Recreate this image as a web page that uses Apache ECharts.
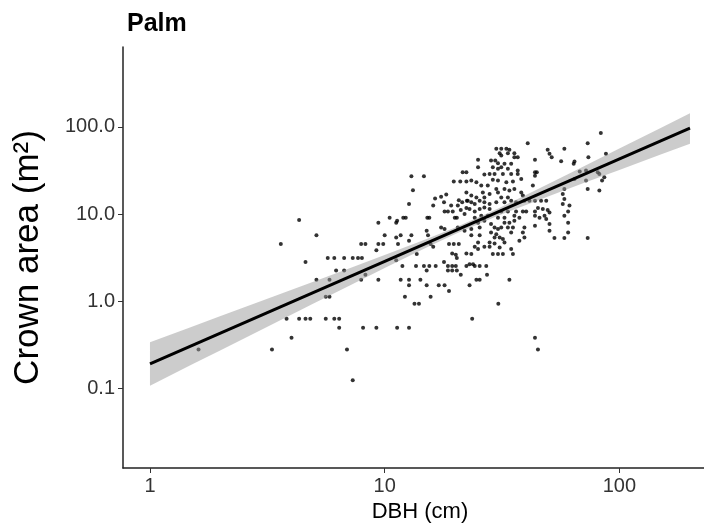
<!DOCTYPE html>
<html><head><meta charset="utf-8">
<script src="https://cdn.jsdelivr.net/npm/echarts@6/dist/echarts.min.js"></script>
<style>html,body{margin:0;padding:0;background:#fff}#c{width:704px;height:525px}</style>
</head><body><div id="c"></div>
<script>
const chartTitle = 'Palm';
const xName = 'DBH (cm)';
const yName = 'Crown area (m\u00B2)';
const xTicks = [1, 10, 100];
const yTicks = [0.1, 1, 10, 100];
// [DBH (cm), crown area (m2)]
const palmTrees = [
[4.32,8.53],[5.12,5.69],[3.61,4.51],[4.60,2.81],[5.72,3.13],[6.10,3.13],[6.21,2.24],[5.12,1.75],[5.82,1.75],[5.61,1.12],
[5.82,1.12],[3.82,0.625],[4.32,0.625],[4.60,0.625],[4.82,0.625],[5.61,0.625],[6.10,0.625],[6.40,0.625],[6.40,0.492],[4.01,0.378],
[3.31,0.277],[1.61,0.277],[7.31,0.123],[6.91,0.277],[8.09,0.492],[9.22,0.492],[11.3,0.492],[12.7,0.492],[6.72,3.13],[7.31,3.13],
[7.70,3.13],[8.0,3.13],[6.72,2.24],[7.94,1.75],[8.28,2.0],[9.40,1.75],[9.40,7.94],[10.0,5.69],[10.5,9.08],[11.2,7.94],
[9.40,4.51],[9.86,4.51],[11.2,5.37],[7.94,4.51],[8.28,4.51],
[11.7,1.75],[12.7,1.75],[12.7,1.52],[14.2,1.75],[15.1,1.52],[17.0,1.52],[18.0,1.52],[18.8,1.30],[23.0,1.52],[12.2,1.12],
[13.4,0.93],[14.0,0.93],[15.7,1.12],[15.1,2.24],[18.6,2.24],[19.4,2.24],[20.3,2.24],[21.1,2.0],
[27.3,2.0],[24.6,1.75],[25.4,1.75],[34.0,1.75],[30.5,0.93],[23.6,0.625],[43.7,0.378],[45.0,0.277],
[13.0,27.1],[14.7,27.1],[21.5,30.2],[13.2,18.7],[19.7,23.6],[21.0,23.6],[22.3,23.6],[12.7,13.0],[16.4,15.1],[17.4,15.8],
[18.3,16.7],[16.1,12.5],[17.9,13.6],[20.7,14.4],[21.4,13.6],[22.4,14.2],[18.0,10.7],[18.6,10.7],[19.5,10.7],[19.2,12.5],
[20.5,12.5],[21.1,11.1],[22.3,11.7],[11.3,8.37],[12.0,9.08],[12.3,9.08],[15.2,9.08],[15.5,9.08],[19.9,9.08],[20.3,9.08],
[17.4,7.0],[18.0,6.71],[15.1,6.42],[20.5,7.0],[11.7,5.69],[13.0,5.69],[15.3,5.69],[11.4,4.51],[12.7,4.92],[15.7,4.51],
[16.1,4.20],[18.8,4.51],[19.7,4.51],[20.7,4.51],[9.22,3.84],[13.7,3.46],[19.4,3.51],[20.1,3.40],[20.3,3.13],[22.3,3.51],
[11.2,2.95],[11.9,2.52],[13.6,2.52],[14.7,2.52],[15.5,2.52],[16.5,2.52],[17.9,2.81],[18.6,2.52],[19.4,2.52],[20.1,2.52],[22.3,2.52],
[40.7,65.2],[29.9,56.2],[31.4,56.2],[33.0,56.2],[34.0,54.7],[58.3,56.2],[73.3,65.2],[83.4,85.1],[49.5,54.7],[50.4,49.2],
[30.9,50.0],[33.5,50.0],[35.7,50.0],[31.4,47.0],[35.7,45.0],[36.9,45.0],[51.5,45.0],[73.8,45.0],[25.0,42.0],[43.7,42.0],
[28.4,41.2],[29.6,41.2],[30.4,38.4],[56.5,40.5],[32.4,37.7],[34.6,37.7],[63.9,37.7],[25.0,34.5],[28.9,34.5],[30.4,33.0],
[31.4,34.5],[33.5,33.0],[36.9,31.6],[22.3,30.2],[43.7,30.2],[44.5,30.2],[43.7,27.5],[67.8,30.8],[72.1,31.6],[80.9,30.2],
[26.6,28.4],[28.0,28.9],[29.4,28.9],[31.9,28.9],[34.6,28.9],[36.9,28.9],[23.4,24.2],[24.6,23.1],[28.9,24.7],[30.4,24.2],
[33.0,23.1],[35.2,23.6],[38.2,25.3],[25.8,21.2],[27.5,21.2],[42.8,21.2],[64.4,25.3],[72.1,24.2],[29.9,19.4],[32.4,19.4],
[34.0,18.6],[35.7,19.4],[58.3,19.4],[73.3,19.4],[82.2,18.6],[22.3,17.7],[23.4,16.3],[24.6,15.5],[26.2,17.7],[26.6,15.5],
[28.0,17.0],[30.4,17.7],[31.4,15.5],[38.2,17.7],[38.8,16.3],[33.5,15.5],[22.6,14.2],[23.4,13.6],[24.2,13.0],[25.4,14.2],
[26.6,13.6],[28.0,13.0],[29.9,13.6],[32.4,13.6],[34.6,14.2],[36.3,13.6],[39.4,14.2],[41.4,14.2],[43.7,14.2],[46.4,14.2],
[48.8,14.2],[58.3,14.9],[57.4,13.0],[61.3,12.5],[23.0,11.4],[24.2,10.7],[25.4,11.4],[26.6,11.9],[28.0,11.4],[31.4,10.7],
[33.5,10.7],[36.3,10.7],[38.8,10.7],[40.1,10.7],[43.7,10.7],[45.0,11.7],[47.2,11.4],[49.5,11.1],[50.4,10.4],[21.9,10.0],
[24.2,9.08],[25.8,9.55],[27.5,9.55],[30.4,9.08],[32.4,9.08],[35.7,9.55],[37.5,9.08],[43.7,9.55],[45.7,9.08],[48.0,9.55],
[48.8,8.75],[58.3,9.55],[25.0,7.94],[26.6,8.37],[28.4,7.67],[32.4,7.94],[34.0,7.94],[35.7,8.37],[43.7,7.33],[50.4,7.67],
[60.5,7.94],[25.4,7.0],[23.4,6.71],[29.4,7.0],[30.4,6.71],[31.4,7.0],[33.5,7.0],[35.2,7.0],[39.4,7.0],[21.9,6.42],
[28.4,6.14],[29.9,5.87],[34.6,6.14],[38.8,6.14],[50.4,6.42],[60.5,6.14],[23.4,5.69],[25.4,5.69],[29.4,5.37],[30.9,5.37],
[31.9,5.15],[39.4,5.37],[25.0,4.70],[28.0,4.70],[29.4,4.58],[32.4,4.70],[37.5,4.92],[24.2,4.20],[25.0,3.95],[26.6,4.20],
[28.0,4.20],[30.9,4.12],[34.6,3.95],[52.9,5.29],[58.3,5.29],[73.3,5.29],[23.4,3.46],[28.9,3.46],[30.4,3.46],[31.9,3.46],
[35.2,3.46],[23.0,2.65],[23.8,2.65],[24.2,2.52],[25.4,2.52],[27.1,2.52],
[87.7,49.2],[64.4,40.1],[82.2,28.9],[86.3,26.4],[84.4,24.2],[60.5,10.7],[57.4,17.0]
];
// fitted power-law line and its confidence band
const fitX = [1, 200];
const fitY = [0.189, 97];
const bandX  = [1, 1.5, 2, 3, 5, 7, 10, 15, 20, 30, 40, 50, 70, 100, 150, 200];
const bandLo = [0.106, 0.185, 0.272, 0.471, 0.942, 1.48, 2.39, 4.09, 5.89, 9.40, 12.7, 16.0, 22.5, 32.1, 48.2, 64.3];
const bandHi = [0.336, 0.504, 0.671, 1.006, 1.675, 2.35, 3.37, 5.11, 6.98, 11.35, 16.5, 22.2, 34.8, 56.4, 97.5, 143.9];
const xMin = 0.7674, xMax = 260.7;
const yMin = 0.01206, yMax = 829.6;

const chart = echarts.init(document.getElementById('c'), null, {renderer: 'canvas'});
const font = 'Liberation Sans, Arial, sans-serif';
const isIn = (arr, v) => arr.some(t => Math.abs(t - v) / t < 1e-6);
chart.setOption({
  animation: false,
  backgroundColor: '#fff',
  textStyle: {fontFamily: font},
  title: {text: chartTitle, left: 122, top: 7,
    textStyle: {fontSize: 25, fontWeight: 'bold', color: '#000', fontFamily: font}},
  grid: {left: 123, top: 47, right: -13, bottom: 57, containLabel: false, outerBoundsMode: 'none'},
  xAxis: {
    type: 'log', logBase: 10, min: xMin, max: xMax,
    name: xName, nameLocation: 'middle', nameGap: 33,
    nameTextStyle: {fontSize: 22, color: '#000', fontFamily: font},
    axisLine: {lineStyle: {color: '#222', width: 1.5}},
    axisTick: {show: true, length: 5, lineStyle: {color: '#333', width: 1}, customValues: xTicks},
    axisLabel: {fontSize: 20, color: '#333', margin: 8, customValues: xTicks,
      formatter: v => isIn(xTicks, v) ? String(Math.round(v)) : ''},
    splitLine: {show: false}, minorTick: {show: false}
  },
  yAxis: {
    type: 'log', logBase: 10, min: yMin, max: yMax,
    name: yName, nameLocation: 'middle', nameGap: 77, nameRotate: 90,
    nameTextStyle: {fontSize: 35, color: '#000', fontFamily: font},
    axisLine: {lineStyle: {color: '#222', width: 1.5}},
    axisTick: {show: true, length: 5, lineStyle: {color: '#333', width: 1}, customValues: yTicks},
    axisLabel: {fontSize: 20, color: '#333', margin: 8, customValues: yTicks,
      formatter: v => isIn(yTicks, v) ? v.toFixed(1) : ''},
    splitLine: {show: false}
  },
  series: [
    {type: 'scatter', data: palmTrees, symbolSize: 4, itemStyle: {color: '#000'}, z: 2, silent: true},
    {type: 'custom', z: 3, silent: true,
      data: bandX.map((x, i) => [x, bandLo[i], bandHi[i]]),
      encode: {x: 0, y: [1, 2]},
      renderItem: (params, api) => {
        if (params.dataIndex !== 0) return null;
        const upper = bandX.map((x, i) => api.coord([x, bandHi[i]]));
        const lower = bandX.map((x, i) => api.coord([x, bandLo[i]])).reverse();
        return {type: 'polygon', shape: {points: upper.concat(lower)},
          style: {fill: 'rgba(153,153,153,0.5)'}};
      }},
    {type: 'line', data: fitX.map((x, i) => [x, fitY[i]]), symbol: 'none', z: 4, silent: true,
      lineStyle: {color: '#000', width: 3}}
  ]
});
</script></body></html>
